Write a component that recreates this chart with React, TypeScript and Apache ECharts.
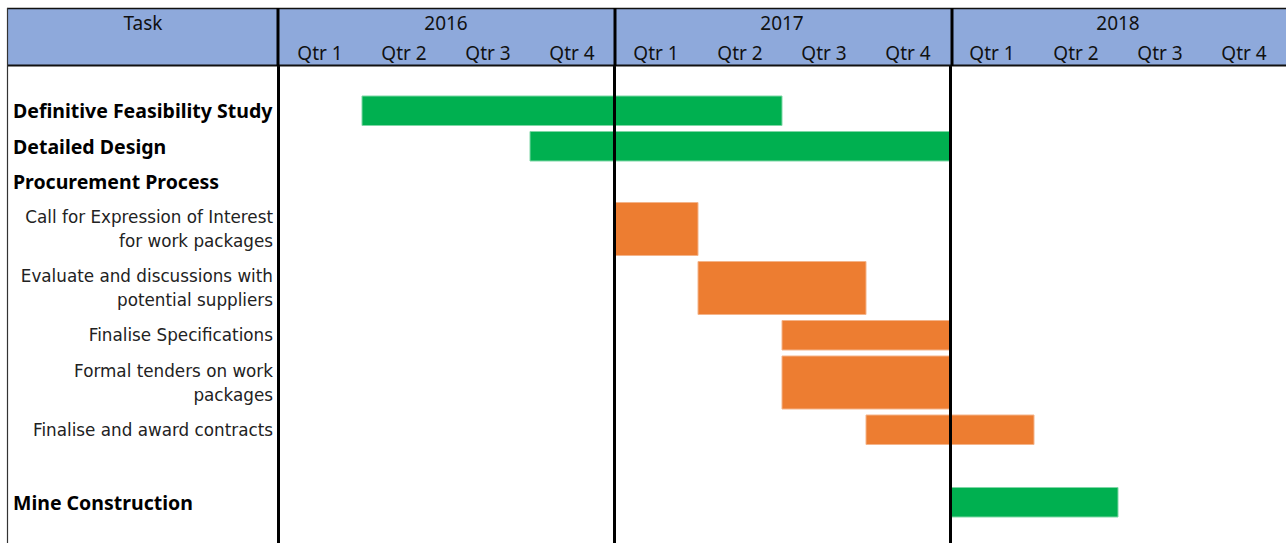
import React, { useEffect, useRef } from "react";
import * as echarts from "echarts";

// ---------- data ----------
const years = ["2016", "2017", "2018"];
const quarters = [
  "Qtr 1", "Qtr 2", "Qtr 3", "Qtr 4",
  "Qtr 1", "Qtr 2", "Qtr 3", "Qtr 4",
  "Qtr 1", "Qtr 2", "Qtr 3", "Qtr 4",
];
const taskNames = [
  "Definitive Feasibility Study",
  "Detailed Design",
  "Procurement Process",
  "Call for Expression of Interest\nfor work packages",
  "Evaluate and discussions with\npotential suppliers",
  "Finalise Specifications",
  "Formal tenders on work\npackages",
  "Finalise and award contracts",
  "Mine Construction",
];
// 0 = main task (bold heading), 1 = procurement sub-task
const taskLevel = [0, 0, 0, 1, 1, 1, 1, 1, 0];
// quarters counted from the start of 2016 (0 = start of Qtr 1 2016)
const startQtr: (number | null)[] = [1, 3, null, 4, 5, 6, 6, 7, 8];
const endQtr: (number | null)[] = [6, 8, null, 5, 7, 8, 8, 9, 10];

// ---------- layout ----------
const W = 1286;
const H = 543;
const GRID_LEFT = 278;
const GRID_TOP = 66;
const GRID_W = 1011;
const HEADER_TOP = 9;
const ROW_SINGLE = 35.5;
const ROW_DOUBLE = 59;
const SPACER_TOP = 27;
const SPACER_BEFORE_LAST = 37;
const INSET = 3;
const FONT = "'Noto Sans', 'Open Sans', sans-serif";
const SUB_FONT = "'DejaVu Sans', 'Noto Sans', sans-serif";
const GREEN = "#00B050";
const GREEN_EDGE = "#7FD7A6";
const ORANGE = "#ED7D31";
const ORANGE_EDGE = "#F4B48A";
const HEADER_BLUE = "#8EA9DB";

type Row = { top: number; bottom: number; task: number };

function buildRows(): Row[] {
  const rows: Row[] = [];
  let y = SPACER_TOP;
  taskNames.forEach((name, i) => {
    if (i === taskNames.length - 1) y += SPACER_BEFORE_LAST;
    const h = name.includes("\n") ? ROW_DOUBLE : ROW_SINGLE;
    rows.push({ top: y, bottom: y + h, task: i });
    y += h;
  });
  return rows;
}

export default function App() {
  const ref = useRef<HTMLDivElement>(null);

  useEffect(() => {
    if (!ref.current) return;
    const chart = echarts.init(ref.current, undefined, { renderer: "svg" });
    const rows = buildRows();
    const gridH = H - GRID_TOP;

    const barData = rows
      .filter((r) => startQtr[r.task] !== null)
      .map((r) => [startQtr[r.task], endQtr[r.task], r.top, r.bottom, r.task]);
    const labelData = rows.map((r) => [0, r.top, r.bottom, r.task]);

    const yearW = GRID_W / years.length;
    const headerLines: any[] = [];
    for (let i = 0; i < years.length; i++) {
      const x = GRID_LEFT + i * yearW;
      headerLines.push({
        type: "line",
        z: 100,
        shape: { x1: x, y1: HEADER_TOP - 1, x2: x, y2: GRID_TOP },
        style: { stroke: "#000", lineWidth: 3 },
      });
    }

    const headerLabel = {
      margin: 13,
      verticalAlign: "middle",
      fontFamily: FONT,
      fontSize: 19,
      color: "#111",
    };

    chart.setOption({
      animation: false,
      backgroundColor: "#fff",
      grid: { left: GRID_LEFT, top: GRID_TOP, width: GRID_W, height: gridH },
      xAxis: [
        { type: "value", min: 0, max: quarters.length, show: false },
        {
          type: "category",
          data: quarters,
          position: "top",
          axisLine: { show: false },
          axisTick: { show: false },
          splitLine: { show: false },
          axisLabel: { ...headerLabel },
        },
        {
          type: "category",
          data: years,
          position: "top",
          offset: 30,
          axisLine: { show: false },
          axisTick: { show: false },
          splitLine: { show: false },
          axisLabel: { ...headerLabel },
        },
      ],
      yAxis: {
        type: "value",
        inverse: true,
        min: 0,
        max: gridH,
        show: false,
      },
      graphic: [
        {
          type: "rect",
          z: -10,
          shape: { x: 8, y: HEADER_TOP, width: W - 8, height: GRID_TOP - HEADER_TOP },
          style: { fill: HEADER_BLUE },
        },
        {
          type: "line",
          z: 100,
          shape: { x1: 7, y1: HEADER_TOP - 0.5, x2: W, y2: HEADER_TOP - 0.5 },
          style: { stroke: "#111", lineWidth: 1.5 },
        },
        {
          type: "line",
          z: 100,
          shape: { x1: 7, y1: GRID_TOP - 0.5, x2: W, y2: GRID_TOP - 0.5 },
          style: { stroke: "#111", lineWidth: 2 },
        },
        {
          type: "line",
          z: 100,
          shape: { x1: 7.5, y1: HEADER_TOP - 1, x2: 7.5, y2: H },
          style: { stroke: "#333", lineWidth: 1.2 },
        },
        ...headerLines,
        {
          type: "text",
          z: 100,
          x: (8 + GRID_LEFT) / 2,
          y: 23,
          style: {
            text: "Task",
            align: "center",
            verticalAlign: "middle",
            fontFamily: FONT,
            fontSize: 19,
            fill: "#111",
          },
        },
      ],
      series: [
        {
          type: "custom",
          name: "tasks",
          encode: { x: [0, 1], y: [2, 3] },
          data: barData,
          z: 2,
          renderItem: (params: any, api: any) => {
            const idx = api.value(4);
            const p0 = api.coord([api.value(0), api.value(2)]);
            const p1 = api.coord([api.value(1), api.value(3)]);
            const main = taskLevel[idx] === 0;
            return {
              type: "rect",
              shape: {
                x: p0[0],
                y: p0[1] + INSET,
                width: p1[0] - p0[0],
                height: p1[1] - p0[1] - 2 * INSET,
              },
              style: {
                fill: main ? GREEN : ORANGE,
                stroke: main ? GREEN_EDGE : ORANGE_EDGE,
                lineWidth: 1,
              },
            };
          },
          markLine: {
            silent: true,
            symbol: ["none", "none"],
            label: { show: false },
            lineStyle: { color: "#000", width: 3, type: "solid" },
            z: 10,
            data: years.map((_, i) => ({ xAxis: (i * quarters.length) / years.length })),
          },
        },
        {
          type: "custom",
          name: "labels",
          encode: { x: 0, y: [1, 2] },
          data: labelData,
          clip: false,
          z: 3,
          renderItem: (params: any, api: any) => {
            const idx = api.value(3);
            const c = api.coord([0, (api.value(1) + api.value(2)) / 2]);
            const main = taskLevel[idx] === 0;
            return {
              type: "text",
              x: main ? 13 : c[0] - 5,
              y: c[1],
              style: {
                text: taskNames[idx],
                align: main ? "left" : "right",
                verticalAlign: "middle",
                fontFamily: main ? FONT : SUB_FONT,
                fontSize: main ? 19.5 : 16.8,
                fontWeight: main ? "bold" : "normal",
                lineHeight: 24,
                fill: main ? "#000" : "#222",
              },
            };
          },
        },
      ],
    });

    return () => chart.dispose();
  }, []);

  return (
    <div
      ref={ref}
      style={{ position: "absolute", left: 0, top: 0, width: W, height: H }}
    />
  );
}
